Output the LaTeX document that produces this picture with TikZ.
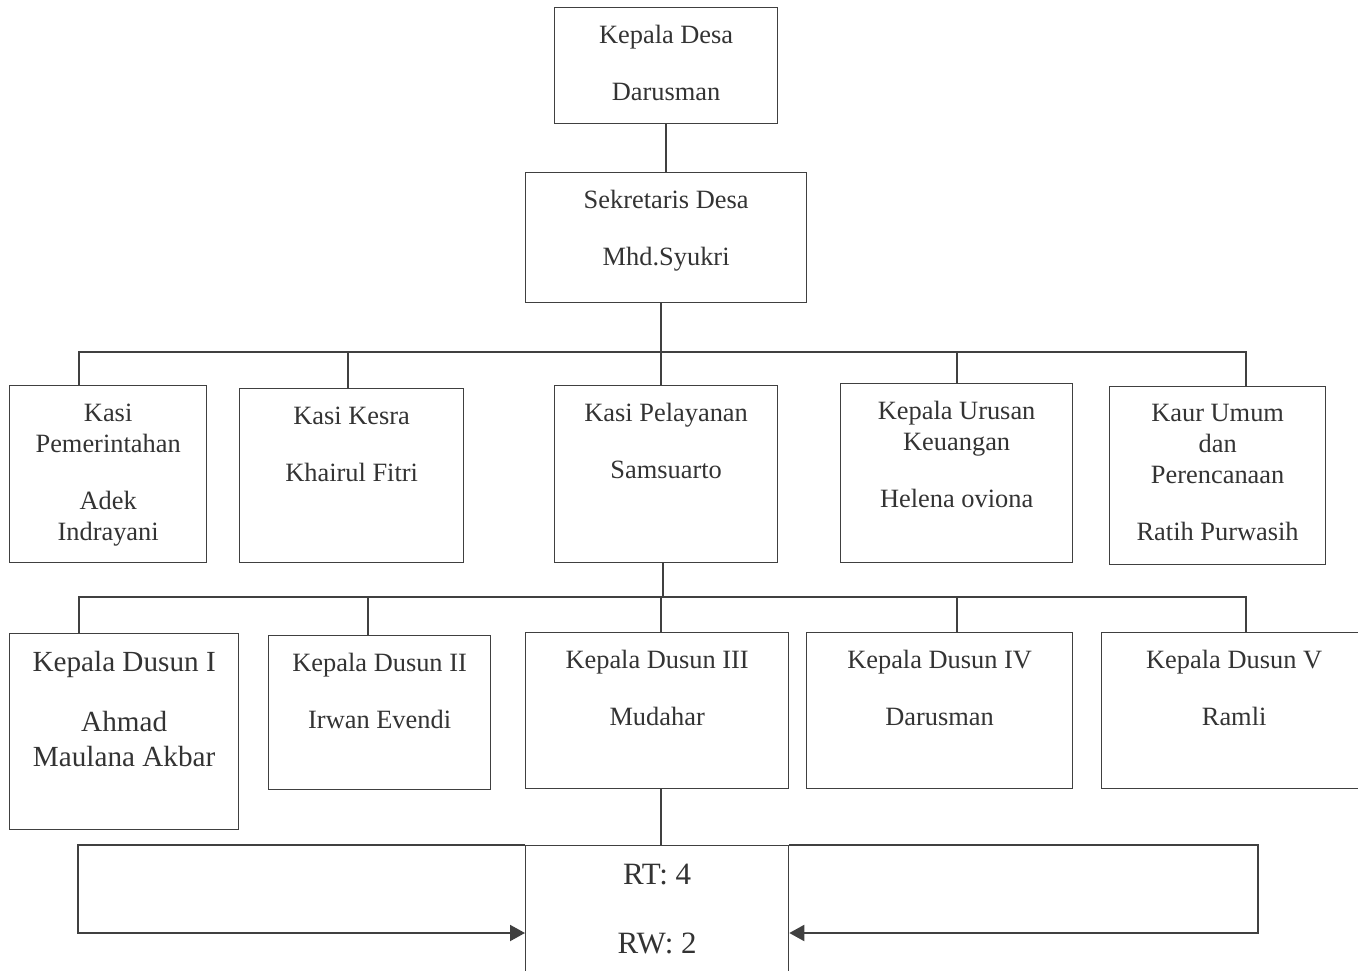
\documentclass[tikz,border=0pt]{standalone}
\usepackage{fontspec}
\setmainfont{Liberation Serif}
\usetikzlibrary{arrows.meta}
\definecolor{garisabu}{HTML}{404040}
\definecolor{teksabu}{HTML}{333333}
\newcommand{\isi}[3]{\parbox[t][#2][t]{#1}{\centering\vspace*{18pt}#3}}

\begin{document}
\begin{tikzpicture}[x=1pt,y=-1pt,
  kotak/.style={draw=garisabu,line width=1.3pt,rectangle,inner sep=0pt,anchor=north west,
    text=teksabu,font=\fontsize{26.4}{31}\selectfont},
  garis/.style={draw=garisabu,line width=2pt},
  panah/.style={garis,-{Triangle[length=15pt,width=16pt]}}]
\useasboundingbox (0,0) rectangle (1358,971);
% perangkat desa
\node[kotak] (desa) at (554,7) {\isi{223pt}{116pt}{Kepala Desa\\[26pt]Darusman}};
\node[kotak] (sekdes) at (525,172) {\isi{281pt}{130pt}{Sekretaris Desa\\[26pt]Mhd.Syukri}};
\node[kotak] (pem) at (9,385) {\isi{197pt}{177pt}{Kasi\\Pemerintahan\\[26pt]Adek\\Indrayani}};
\node[kotak] (kesra) at (239,388) {\isi{224pt}{174pt}{Kasi Kesra\\[26pt]Khairul Fitri}};
\node[kotak] (pelayanan) at (554,385) {\isi{223pt}{177pt}{Kasi Pelayanan\\[26pt]Samsuarto}};
\node[kotak] (keuangan) at (840,383) {\isi{232pt}{179pt}{Kepala Urusan\\Keuangan\\[26pt]Helena oviona}};
\node[kotak] (kaur) at (1109,386) {\isi{216pt}{178pt}{Kaur Umum\\dan\\Perencanaan\\[26pt]Ratih Purwasih}};
% kepala dusun
\node[kotak] (dusun1) at (9,633) {\isi{229pt}{196pt}{\fontsize{29.2}{35}\selectfont Kepala Dusun I\\[25pt]Ahmad\\Maulana Akbar}};
\node[kotak] (dusun2) at (268,635) {\isi{222pt}{154pt}{Kepala Dusun II\\[26pt]Irwan Evendi}};
\node[kotak] (dusun3) at (525,632) {\isi{263pt}{156pt}{Kepala Dusun III\\[26pt]Mudahar}};
\node[kotak] (dusun4) at (806,632) {\isi{266pt}{156pt}{Kepala Dusun IV\\[26pt]Darusman}};
\node[kotak] (dusun5) at (1101,632) {\isi{265pt}{156pt}{Kepala Dusun V\\[26pt]Ramli}};
\node[kotak] (rt) at (525,845) {\isi{263pt}{160pt}{\fontsize{31}{36}\selectfont RT: 4\\[33pt]RW: 2}};
% garis
\coordinate (bus1w) at (78,352);
\coordinate (bus1e) at (1247,352);
\coordinate (bus2w) at (78,597);
\coordinate (bus2e) at (1247,597);
\coordinate (kiri) at (78,933);
\coordinate (kanan) at (1258,933);
\draw[garis] (desa.south) -- (sekdes.north);
\draw[garis] ([xshift=-5.5pt]sekdes.south) -- ([xshift=-5.5pt]sekdes.south |- bus1w);
\draw[garis] (bus1w) -- (bus1e);
\foreach \n/\d in {pem/-29.5,kesra/-4,pelayanan/-5.5,keuangan/0,kaur/28}
  \draw[garis] ([xshift=\d pt]\n.north |- bus1w) -- ([xshift=\d pt]\n.north);
\draw[garis] ([xshift=-3.5pt]pelayanan.south) -- ([xshift=-3.5pt]pelayanan.south |- bus2w);
\draw[garis] (bus2w) -- (bus2e);
\foreach \n/\d in {dusun1/-45.5,dusun2/-12,dusun3/3.5,dusun4/17,dusun5/11.5}
  \draw[garis] ([xshift=\d pt]\n.north |- bus2w) -- ([xshift=\d pt]\n.north);
\draw[garis] ([xshift=3.5pt]dusun3.south) -- ([xshift=3.5pt]rt.north);
\draw[panah] (rt.north west) -| (kiri) -- (kiri -| rt.west);
\draw[panah] (rt.north east) -| (kanan) -- (kanan -| rt.east);
\end{tikzpicture}
\end{document}
